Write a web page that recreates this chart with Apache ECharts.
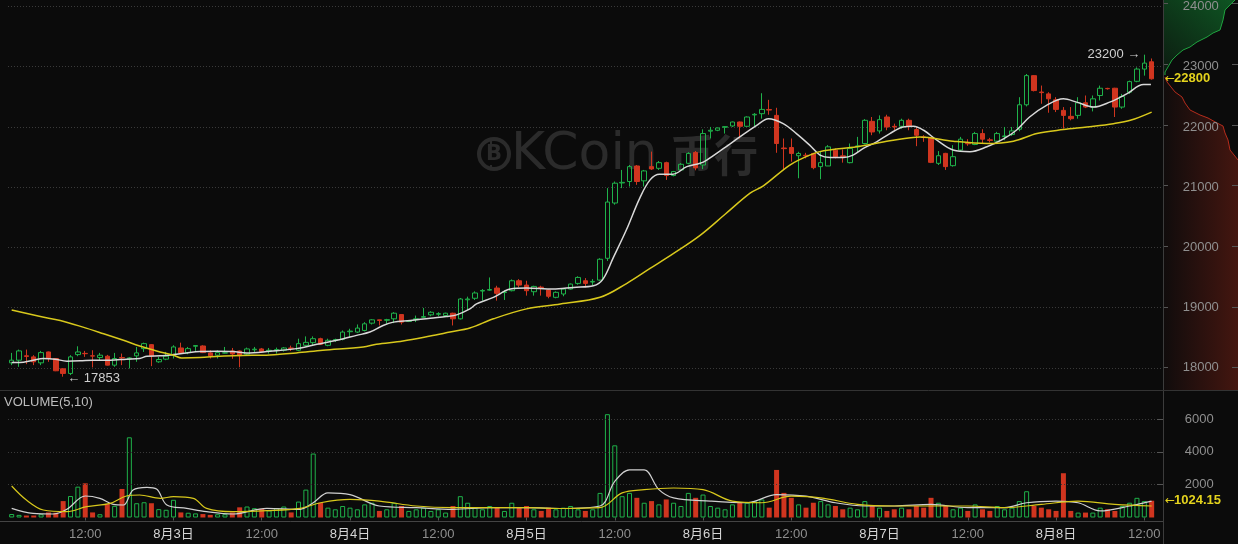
<!DOCTYPE html>
<html><head><meta charset="utf-8">
<script src="https://cdn.jsdelivr.net/npm/echarts@6/dist/echarts.min.js"></script>
<style>html,body{margin:0;padding:0;background:#0b0b0b;}#c{width:1238px;height:544px;}</style>
</head><body><div id="c"></div>
<script>
// ---- data (hourly candles, 8/2 02:00 -> 8/8 13:00) : [open, close, low, high]
const ohlc = [
[18083,18127,18045,18248],[18127,18281,18017,18303],[18200,18190,18061,18303],[18182,18100,18045,18210],[18083,18253,18045,18281],
[18264,18155,18100,18270],[18155,17951,17945,18160],[17984,17907,17853,17990],[17907,18182,17880,18210],[18220,18264,18193,18358],
[18240,18235,18182,18281],[18200,18195,18007,18292],[18171,18210,18127,18248],[18193,18045,18040,18215],[18045,18155,18017,18248],
[18170,18165,18045,18237],[18150,18165,17990,18180],[18199,18248,18100,18347],[18319,18402,18264,18418],[18385,18199,18028,18396],
[18100,18138,18083,18182],[18144,18193,18127,18265],[18210,18347,18155,18375],[18330,18248,18237,18418],[18253,18319,18226,18347],
[18358,18370,18281,18375],[18363,18253,18245,18375],[18248,18199,18155,18292],[18210,18253,18155,18292],[18245,18250,18240,18347],
[18280,18230,18150,18330],[18280,18200,18010,18290],[18226,18314,18204,18336],[18300,18310,18264,18347],[18314,18270,18260,18330],
[18280,18292,18237,18330],[18290,18303,18237,18336],[18292,18330,18270,18345],[18330,18320,18280,18369],[18292,18402,18280,18484],
[18374,18423,18358,18522],[18418,18484,18374,18522],[18484,18391,18380,18500],[18374,18457,18358,18484],[18460,18470,18430,18484],
[18473,18594,18457,18621],[18600,18610,18512,18649],[18594,18660,18578,18720],[18621,18731,18605,18759],[18742,18797,18720,18808],
[18797,18786,18704,18800],[18790,18800,18731,18814],[18814,18907,18742,18924],[18885,18759,18720,18890],[18770,18780,18760,18790],
[18800,18815,18760,18868],[18840,18850,18830,18995],[18880,18923,18857,18940],[18890,18900,18857,18924],[18868,18907,18860,18915],
[18907,18814,18704,18915],[18814,19143,18803,19160],[19130,19143,18962,19182],[19155,19243,19127,19270],[19275,19285,19116,19308],
[19290,19300,19280,19501],[19325,19237,19116,19363],[19250,19260,19127,19292],[19281,19446,19270,19468],[19446,19374,19336,19473],
[19374,19281,19199,19446],[19264,19352,19199,19363],[19340,19330,19199,19363],[19292,19188,19155,19300],[19171,19254,19155,19270],
[19226,19308,19188,19325],[19308,19391,19300,19400],[19402,19501,19380,19520],[19446,19402,19336,19490],[19425,19435,19374,19473],
[19457,19803,19446,19820],[19819,20753,19775,20984],[20737,21066,20709,21094],[21070,21080,20984,21286],[21094,21341,21011,21368],
[21352,21094,21039,21368],[21105,21270,21011,21286],[21341,21302,21286,21590],[21313,21407,21286,21434],[21407,21193,21121,21423],
[21193,21259,21180,21270],[21286,21380,21270,21400],[21396,21560,21380,21580],[21577,21320,21280,21600],[21368,21890,21300,21960],
[21930,21945,21808,22000],[21945,21983,21930,21990],[21995,22005,21890,22011],[22016,22082,22000,22090],[22082,22011,21808,22090],
[22011,22165,22000,22175],[22200,22210,22011,22230],[22220,22291,22137,22560],[22290,22280,22203,22450],[22192,21725,21571,22318],
[21650,21640,21297,21808],[21659,21560,21423,21808],[21522,21560,21148,21588],[21530,21520,21478,21570],[21560,21324,21297,21570],
[21341,21407,21132,21588],[21352,21670,21352,21698],[21615,21505,21478,21643],[21520,21510,21407,21626],[21407,21643,21396,21725],
[21670,21685,21572,21835],[21725,22110,21710,22130],[22093,21917,21863,22165],[21934,22121,21890,22192],[22165,22000,21945,22203],
[22010,22000,21945,22055],[22011,22110,21972,22137],[22110,22011,21945,22137],[21956,21862,21681,21998],[21835,21825,21753,21863],
[21819,21412,21400,21835],[21396,21522,21368,21599],[21561,21341,21286,21570],[21357,21506,21341,21698],[21616,21797,21588,21835],
[21730,21720,21687,21797],[21709,21890,21698,21918],[21890,21797,21725,21962],[21786,21776,21742,21819],[21764,21890,21725,21918],
[21840,21850,21780,22000],[21874,21934,21852,22000],[21962,22368,21929,22494],[22368,22852,22341,22879],[22852,22604,22590,22860],
[22580,22570,22385,22687],[22549,22467,22236,22577],[22450,22291,22247,22494],[22275,22192,21973,22330],[22176,22137,22110,22330],
[22192,22401,22137,22494],[22401,22330,22313,22522],[22330,22467,22258,22522],[22522,22643,22440,22687],[22640,22635,22620,22650],
[22643,22330,22165,22650],[22330,22505,22302,22549],[22577,22753,22549,22769],[22758,22961,22742,22989],[22961,23060,22852,23200],
[23082,22800,22786,23137]
];
const volumes = [
213,160,120,120,200,310,290,1000,1310,1880,2085,310,200,830,710,1740,4890,870,930,870,
510,470,1080,310,290,250,210,160,200,200,310,620,670,570,530,430,570,670,310,970,
1700,3900,900,600,500,700,600,500,800,900,400,
500,900,700,400,500,600,400,500,300,700,1300,900,
600,500,700,600,400,900,600,700,500,400,600,500,600,700,500,400,500,1500,
6300,4400,1300,1500,1200,900,1000,800,1100,900,700,1500,1200,
1400,700,600,500,800,900,900,1000,1100,600,2900,1500,1200,800,600,900,1000,800,700,500,600,500,1000,700,600,400,500,600,500,700,600,
1200,900,700,500,600,400,800,500,400,700,500,600,1000,1600,700,600,500,400,2700,400,300,300,300,600,500,400,700,900,1200,1000,1024.15
];
// moving averages: [candle index, value]
const priceMaFast = [[0,18089],[1.1,18089],[2.9,18127],[4.3,18155],[5.9,18144],[7.5,18111],[9.3,18116],[11.1,18127],[13.4,18127],[15.6,18144],[17.4,18155],[18.4,18193],[20.2,18199],[22,18220],[23.8,18248],[25.6,18270],[27.9,18275],[30.1,18270],[31.95,18245],[35.1,18275],[38.7,18319],[41.5,18391],[44.2,18457],[46.9,18539],[48.7,18594],[50.5,18704],[51.9,18759],[54.2,18786],[56.9,18825],[59.1,18852],[60.5,18879],[62.3,18978],[63.2,19061],[65.5,19171],[67.8,19308],[70,19325],[73.6,19308],[76.4,19336],[79.1,19363],[80.4,19473],[81.8,19830],[83.6,20297],[85.4,20819],[86.8,21121],[88.1,21215],[89.9,21215],[91.8,21341],[93.6,21396],[94.5,21450],[96.8,21643],[99,21835],[101.3,22027],[102.9,22137],[104.9,22055],[106.7,21890],[108.5,21698],[109.9,21533],[111.3,21494],[113.1,21494],[114.4,21533],[115.8,21643],[117.6,21753],[119.4,21890],[121.2,22000],[122.6,22011],[124,21945],[125.8,21780],[128,21616],[130.3,21588],[132.6,21671],[134.8,21797],[136.6,21945],[138.4,22165],[140.7,22357],[143,22467],[144.8,22412],[147.1,22330],[149.3,22412],[151.6,22549],[153.9,22703],[154.9,22703]];
const priceMaSlow = [[0,18960],[3.9,18852],[6.6,18786],[9.7,18676],[12.5,18566],[15.2,18457],[17.4,18363],[19.7,18281],[22,18209],[23.1,18165],[25.6,18171],[28.3,18193],[31,18205],[35.1,18215],[38.7,18248],[42.3,18292],[47.8,18347],[49.6,18391],[53.2,18446],[56.9,18528],[59.6,18594],[62.3,18660],[65.5,18814],[70,18979],[74.6,19060],[80,19171],[83.6,19400],[86.8,19650],[90,19900],[93.6,20200],[97,20550],[100.4,20900],[102.2,21022],[105.8,21368],[108.5,21533],[110.4,21604],[114.9,21670],[119.4,21769],[123.5,21835],[128,21764],[132.6,21725],[136.2,21764],[139.4,21890],[143,21956],[146.2,22000],[149.8,22055],[152.1,22110],[155,22247]];
const volMa5 = [[0,560],[2.9,254],[5.7,214],[7.5,498],[10,1312],[12,1170],[13.8,804],[15.2,763],[16.5,1678],[18.4,1841],[19.7,1739],[21.1,763],[23.8,560],[26.5,356],[30.1,214],[34.7,560],[39.2,498],[41,900],[43,1500],[46,1400],[50,700],[55,600],[60,500],[65,600],[70,600],[75,550],[80,700],[82,2200],[84,2900],[86,2900],[88,1700],[90,1200],[95,1000],[100,900],[104,1400],[108,1300],[112,900],[116,700],[120,700],[125,800],[130,600],[135,600],[138,900],[142,1000],[145,900],[148,400],[152,700],[155,1000]];
const volMa10 = [[0,1922],[2,1067],[4.3,458],[7.5,356],[10.2,661],[13.4,865],[15.6,1312],[17.4,1373],[20.2,1170],[22,1272],[24.7,1170],[26.5,560],[30.1,356],[34.7,417],[39.2,560],[42,900],[46,1100],[50,1000],[55,700],[60,600],[65,600],[70,600],[75,550],[80,600],[83,1500],[86,1700],[90,1800],[94,1700],[98,1000],[102,900],[106,1300],[110,1200],[115,800],[120,700],[125,700],[130,700],[135,600],[140,800],[145,1000],[150,800],[155,700]];
// order-book depth at the right edge: [cumulative depth, price]
const askDepth = [[2,22824],[2,22873],[5,22956],[9,23071],[14,23153],[20,23236],[27,23285],[34,23368],[44,23450],[50,23516],[57,23566],[60,23731],[62,23896],[69,24011],[72,24060],[75,24300]];
const bidDepth = [[2,22791],[4,22709],[8,22626],[12,22544],[19,22461],[22,22362],[27,22247],[37,22165],[45,22115],[54,22033],[60,21983],[62,21868],[65,21753],[67,21588],[75,21423]];
const tickIdx = [10,22,34,46,58,70,82,94,106,118,130,142,154];
const tickLabels = ['12:00','8月3日','12:00','8月4日','12:00','8月5日','12:00','8月6日','12:00','8月7日','12:00','8月8日','12:00'];
const priceTicks = [18000,19000,20000,21000,22000,23000,24000];
const volTicks = [2000,4000,6000];
const priceRange = [17632, 24060], volRange = [0, 8000];
const lastPrice = 22800, lastVolume = 1024.15, highLabel = [154, 23200], lowLabel = [7, 17853];

// ---- chart
const N = ohlc.length + 1;
const cats = Array.from({length: N}, (_, i) => String(i));
const UP = '#1fb24a', DOWN = '#d0351f', BG = '#0b0b0b', GRIDC = '#3a3a3a';
const FONT = "'Liberation Sans','Noto Sans CJK SC',sans-serif";
const chart = echarts.init(document.getElementById('c'));
const volData = volumes.map((v, i) => {
  const up = ohlc[i][1] >= ohlc[i][0];
  return {value: v, itemStyle: up ? {color: 'rgba(0,0,0,0)', borderColor: UP, borderWidth: 1} : {color: DOWN}};
});
const gl = 8, gw = 1154.7;
const pTop = 0, pH = 390;
const vTop = 386.3, vH = 131.2;
const bidPoly = bidDepth.concat([[75, priceRange[0]]]);
const tickOnly = (ticks, len) => ({axisLine: {show: false}, axisLabel: {show: false}, splitLine: {show: false},
  axisTick: {show: true, inside: true, length: len, customValues: ticks, lineStyle: {color: '#555'}}});

chart.setOption({
  animation: false,
  backgroundColor: BG,
  textStyle: {fontFamily: FONT},
  grid: [
    {left: gl, width: gw, top: pTop, height: pH},
    {left: gl, width: gw, top: vTop, height: vH},
    {left: 1163, width: 75, top: pTop, height: pH},
    {left: 1163, width: 75, top: vTop, height: vH}
  ],
  xAxis: [
    {type: 'category', gridIndex: 0, data: cats, boundaryGap: true, show: false},
    {type: 'category', gridIndex: 1, data: cats, boundaryGap: true, offset: 4,
      axisLine: {show: false},
      axisTick: {show: true, alignWithLabel: true, length: 3, lineStyle: {color: '#555'}, interval: i => tickIdx.includes(i)},
      axisLabel: {interval: i => tickIdx.includes(i), margin: 6, fontSize: 13,
        formatter: (v, i) => { const k = tickIdx.indexOf(i); if (k < 0) return ''; const t = tickLabels[k]; return t.includes('月') ? '{d|' + t + '}' : '{t|' + t + '}'; },
        rich: {d: {color: '#d6d6d6', fontSize: 13, fontFamily: FONT}, t: {color: '#8f8f8f', fontSize: 13, fontFamily: FONT}}},
      splitLine: {show: false}},
    {type: 'value', gridIndex: 0, min: -0.5, max: N - 0.5, show: false},
    {type: 'value', gridIndex: 1, min: -0.5, max: N - 0.5, show: false},
    {type: 'value', gridIndex: 2, min: 0, max: 75, show: false},
    {type: 'value', gridIndex: 3, min: 0, max: 75, show: false}
  ],
  yAxis: [
    {type: 'value', gridIndex: 0, position: 'right', min: priceRange[0], max: priceRange[1], z: 5,
      axisLine: {show: false}, axisTick: {show: false},
      axisLabel: {color: '#8f8f8f', fontSize: 13, margin: 20, customValues: priceTicks, formatter: v => priceTicks.includes(v) ? String(v) : ''},
      splitLine: {show: false}},
    {type: 'value', gridIndex: 1, position: 'right', min: volRange[0], max: volRange[1], interval: 2000, z: 5,
      axisLine: {show: false}, axisTick: {show: false},
      axisLabel: {color: '#8f8f8f', fontSize: 13, margin: 22, customValues: volTicks, formatter: v => volTicks.includes(v) ? String(v) : ''},
      splitLine: {show: true, lineStyle: {color: ['rgba(0,0,0,0)', GRIDC, GRIDC, GRIDC, 'rgba(0,0,0,0)'], type: [1, 2], width: 1}}},
    Object.assign({type: 'value', gridIndex: 2, position: 'left', min: priceRange[0], max: priceRange[1], z: 5}, tickOnly(priceTicks, 5)),
    Object.assign({type: 'value', gridIndex: 2, position: 'right', min: priceRange[0], max: priceRange[1], z: 5}, tickOnly(priceTicks, 6)),
    Object.assign({type: 'value', gridIndex: 3, position: 'right', min: volRange[0], max: volRange[1], interval: 2000, z: 5}, tickOnly(volTicks, 6))
  ],
  series: [
    {type: 'candlestick', xAxisIndex: 0, yAxisIndex: 0, data: ohlc, barWidth: 5, z: 3,
      itemStyle: {color: 'rgba(0,0,0,0)', color0: DOWN, borderColor: UP, borderColor0: DOWN, borderWidth: 1},
      markLine: {symbol: 'none', silent: true, animation: false, label: {show: false}, z: 1,
        lineStyle: {color: GRIDC, type: [1, 2], width: 1},
        data: priceTicks.map(v => ({yAxis: v}))},
      markPoint: {symbol: 'circle', symbolSize: 0, silent: true, animation: false,
        data: [
          {coord: [String(highLabel[0]), highLabel[1]], label: {show: true, position: 'left', distance: 4, formatter: highLabel[1] + ' →', color: '#cfcfcf', fontSize: 13, fontFamily: FONT}},
          {coord: [String(lowLabel[0]), lowLabel[1]], label: {show: true, position: 'right', distance: 4, offset: [0, 2], formatter: '← ' + lowLabel[1], color: '#cfcfcf', fontSize: 13, fontFamily: FONT}}
        ]}},
    {type: 'line', xAxisIndex: 2, yAxisIndex: 0, data: priceMaFast, smooth: 0.35, showSymbol: false, z: 4,
      lineStyle: {color: '#d8d8d8', width: 1.5}},
    {type: 'line', xAxisIndex: 2, yAxisIndex: 0, data: priceMaSlow, smooth: 0.35, showSymbol: false, z: 4,
      lineStyle: {color: '#d8c81c', width: 1.5}},
    {type: 'bar', xAxisIndex: 1, yAxisIndex: 1, data: volData, barWidth: 5, z: 3},
    {type: 'line', xAxisIndex: 3, yAxisIndex: 1, data: volMa5, smooth: 0.35, showSymbol: false, z: 4,
      lineStyle: {color: '#d0d0d0', width: 1.2}},
    {type: 'line', xAxisIndex: 3, yAxisIndex: 1, data: volMa10, smooth: 0.35, showSymbol: false, z: 4,
      lineStyle: {color: '#d8c81c', width: 1.2}},
    {type: 'custom', xAxisIndex: 4, yAxisIndex: 2, data: [0], z: 1, silent: true, clip: true,
      renderItem: (params, api) => {
        const x0 = api.coord([0, 20000])[0];
        const ask = askDepth.map(d => api.coord(d));
        const bid = bidDepth.map(d => api.coord(d));
        const bidAll = bidPoly.map(d => api.coord(d));
        const askArea = [[x0, ask[0][1]]].concat(ask, [[x0, ask[ask.length - 1][1]]]);
        const bidArea = [[x0, bid[0][1]]].concat(bidAll, [[x0, bidAll[bidAll.length - 1][1]]]);
        return {type: 'group', children: [
          {type: 'polygon', shape: {points: askArea}, style: {fill: new echarts.graphic.LinearGradient(0, 1, 1, 0, [{offset: 0, color: '#0c1a10'}, {offset: 1, color: '#0f5c25'}])}},
          {type: 'polyline', shape: {points: ask}, style: {stroke: '#1fa33f', lineWidth: 1, fill: null}},
          {type: 'polygon', shape: {points: bidArea}, style: {fill: new echarts.graphic.LinearGradient(0, 0, 1, 0, [{offset: 0, color: '#100c0c'}, {offset: 1, color: '#441610'}])}},
          {type: 'polyline', shape: {points: bid}, style: {stroke: '#b52c1c', lineWidth: 1, fill: null}}
        ]};
      }}
  ]
});

const yLast = chart.convertToPixel({yAxisIndex: 0}, lastPrice);
const yVol = chart.convertToPixel({yAxisIndex: 1}, lastVolume);
const wm = '#2b2b2b';
chart.setOption({graphic: [
  {type: 'circle', z: 0, shape: {cx: 494, cy: 154, r: 15}, style: {fill: null, stroke: wm, lineWidth: 4}},
  {type: 'text', z: 0, x: 494, y: 155, style: {text: 'B', font: 'bold 21px DejaVu Sans', fill: wm, align: 'center', verticalAlign: 'middle'}},
  {type: 'rect', z: 0, shape: {x: 490, y: 140, width: 2, height: 4}, style: {fill: wm}},
  {type: 'rect', z: 0, shape: {x: 490, y: 165, width: 2, height: 4}, style: {fill: wm}},
  {type: 'text', z: 0, x: 511, y: 155, style: {text: 'KCoin', font: '52px DejaVu Sans', fill: wm, verticalAlign: 'middle'}},
  {type: 'text', z: 0, x: 670, y: 155, style: {text: '币行', font: 'bold 44px Noto Sans CJK SC', fill: wm, verticalAlign: 'middle'}},
  {type: 'line', z: 50, shape: {x1: 1163.5, y1: 0, x2: 1163.5, y2: 544}, style: {stroke: '#3c3c3c', lineWidth: 1}},
  {type: 'line', z: 50, shape: {x1: 0, y1: 390.5, x2: 1238, y2: 390.5}, style: {stroke: '#333', lineWidth: 1}},
  {type: 'line', z: 50, shape: {x1: 0, y1: 521.5, x2: 1163, y2: 521.5}, style: {stroke: '#444', lineWidth: 1}},
  {type: 'text', z: 50, x: 4, y: 402, style: {text: 'VOLUME(5,10)', font: '13px Liberation Sans', fill: '#bdbdbd', verticalAlign: 'middle'}},
  {type: 'text', z: 50, x: 1165, y: yLast, style: {text: '←', font: '12px DejaVu Sans', fill: '#e3d21d', verticalAlign: 'middle'}},
  {type: 'text', z: 50, x: 1174, y: yLast, style: {text: String(lastPrice), font: 'bold 13px Liberation Sans', fill: '#e3d21d', verticalAlign: 'middle'}},
  {type: 'text', z: 50, x: 1165, y: yVol, style: {text: '←', font: '12px DejaVu Sans', fill: '#e3d21d', verticalAlign: 'middle'}},
  {type: 'text', z: 50, x: 1174, y: yVol, style: {text: String(lastVolume), font: 'bold 13px Liberation Sans', fill: '#e3d21d', verticalAlign: 'middle'}}
]});
</script></body></html>
